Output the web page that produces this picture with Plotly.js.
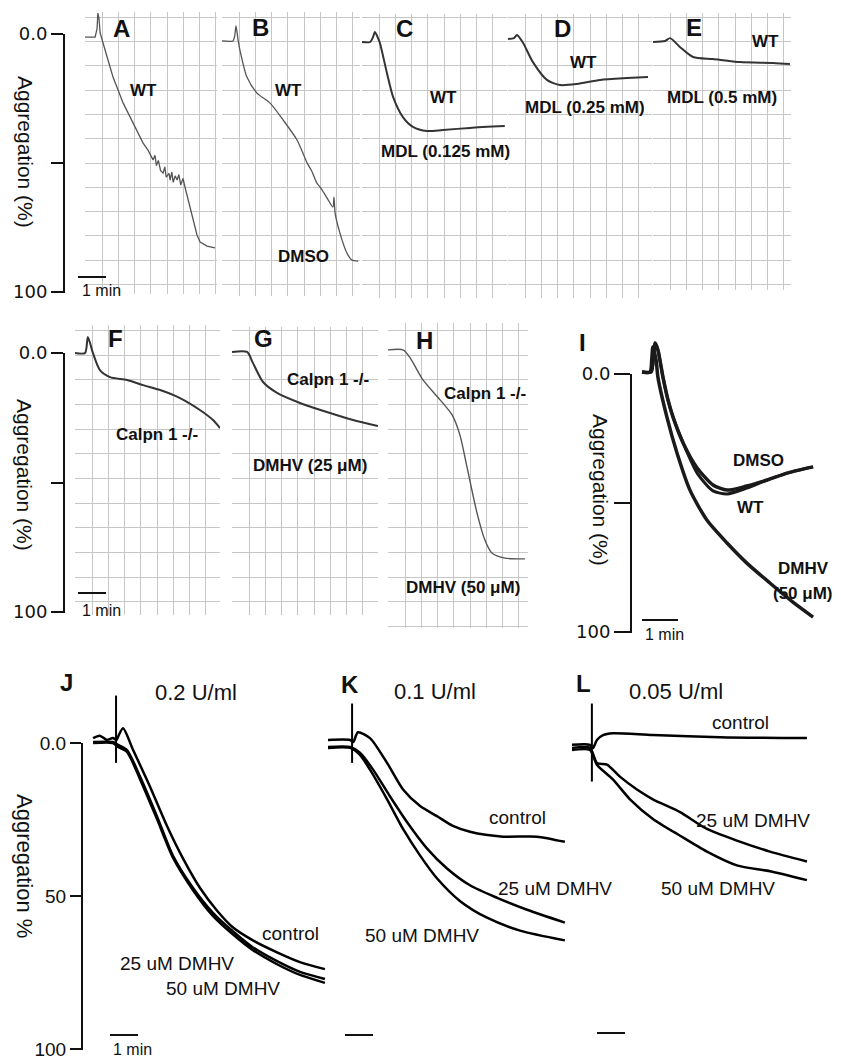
<!DOCTYPE html>
<html><head><meta charset="utf-8">
<script src="https://cdn.plot.ly/plotly-3.0.1.min.js"></script>
<style>html,body{margin:0;padding:0;background:#fff}</style>
</head><body><div id="chart" style="width:841px;height:1062px"></div>
<script>
// ---------------- DATA (time in min, aggregation in %) ----------------
const A_t  = [0,0.36,0.43,0.46,0.5,0.54,0.79,1.0,1.36,1.71,2.07,2.25,2.43,2.5,2.55,2.62,2.7,2.79,2.85,2.9,3.0,3.04,3.1,3.15,3.22,3.29,3.35,3.42,3.5,3.57,3.68,3.82,4.0,4.11,4.36,4.64];
const A_wt = [1.2,1.2,-2,-8.1,-6,-0.4,8.9,16.7,26.7,34.5,42.2,45,48.8,47,51,49,53,53.9,51.5,55.5,54,56.6,53.5,57.5,55,56.6,54.5,58.5,56,59.3,64.3,70.9,77.9,80.6,82.2,82.9];

const B_t    = [0,0.39,0.45,0.5,0.57,0.64,0.89,1.25,1.71,2.18,2.68,3.04,3.2,3.39,3.55,3.79,3.96,4.0,4.04,4.21,4.46,4.64,4.86];
const B_dmso = [2.7,2.7,1,-3.1,2,6.2,16.7,22.9,26.7,33.3,41.1,50,53,57.8,60,64.3,67.1,63.2,69.4,77.1,84.9,87.6,88.0];

const C_t   = [0,0.29,0.4,0.46,0.55,0.64,0.89,1.11,1.46,1.82,2.32,2.89,3.86,5.1];
const C_mdl = [3.1,3.1,1,-0.8,1,3.5,15.1,24.4,32.2,36.0,37.6,37.2,36.4,35.7];

const D_t   = [0,0.21,0.32,0.54,0.89,1.39,1.86,2.46,3.29,4.25,5.0];
const D_mdl = [1.9,1.6,0.4,3.5,10.9,17.8,19.8,19.4,17.8,17.1,16.7];

const E_t   = [0,0.43,0.61,0.96,1.43,2.14,3.11,4.29,4.89];
const E_mdl = [3.1,2.7,1.6,5.0,8.9,9.7,10.9,11.2,11.6];

const F_t  = [0,0.36,0.46,0.64,0.89,1.25,1.86,2.43,3.04,3.75,4.46,4.93,5.18];
const F_ko = [0,0,-6.2,0,6.6,9.3,10.4,12.4,14.3,17.4,22.0,25.9,29.0];

const G_t    = [0,0.54,0.75,1.11,1.61,2.43,3.39,4.32,5.21];
const G_dmhv = [-0.4,-0.4,3.9,11.2,15.4,19.3,22.8,25.9,28.2];

const H_t    = [0,0.54,0.79,1.25,1.86,2.29,2.57,2.82,3.18,3.46,3.71,4.18,4.89];
const H_dmhv = [-1.2,-1.2,1.9,10.4,18.1,23.9,31.7,44.0,61.8,72.2,77.2,79.2,79.5];

const I_t      = [0.28,0.53,0.6,0.64,0.72,0.86,1.0,1.14,1.42,1.81,2.25,2.64,3.19,3.75,4.31,5.03];
const I_wt     = [-0.8,-0.8,-8,-12.0,-9.3,1.2,10.1,16.7,26.7,38.4,45.3,46.5,44.2,41.1,38.4,36.0];
const I_dmso   = [-0.8,-0.8,-8,-12.0,-9.3,1.2,10.1,16.7,26.7,36.4,43.0,45.0,43.4,41.1,38.4,36.0];
const I_dmhv_t = [0.28,0.5,0.55,0.58,0.67,0.72,0.97,1.25,1.61,2.08,2.64,3.19,3.83,4.47,5.03];
const I_dmhv   = [-0.8,-0.8,-6,-10.5,-5.4,1.2,16.7,30.6,45.0,56.6,65.5,73.3,81.0,88.4,94.2];

const J_ctrl_t  = [0.36,0.6,0.85,1.07,1.2,1.25,1.43,1.79,2.39,3.0,3.57,4.18,4.79,5.36,6.07,6.93,7.75,8.64];
const J_ctrl    = [-1.6,-2.4,-1.0,-1.6,-1.0,-2,-4.8,2.3,14.2,27.1,37.7,47.4,54.8,60.3,64.5,68.4,71.6,73.9];
const J_spike_t = [1.18,1.18];
const J_spike   = [-15.5,6.5];
const J_t       = [0.36,1.07,1.25,1.57,2.04,2.64,3.21,3.93,4.64,5.36,6.07,6.93,7.75,8.64];
const J_25      = [-0.3,-0.3,0.6,2.3,11.0,23.9,36.8,47.4,55.5,61.6,66.8,71.3,74.8,77.1];
const J_50      = [0,0,1.3,2.9,11.9,24.8,37.4,48.1,56.5,62.6,67.7,72.3,75.8,78.4];

const K_ctrl_t  = [0,0.79,0.9,1.07,1.5,2.11,2.68,3.29,3.89,4.46,5.07,6.25,7.46,8.46];
const K_ctrl    = [-1.0,-1.0,-0.3,-3.5,-1.6,6.5,15.2,20.6,23.9,27.1,29.0,30.6,30.6,32.3];
const K_spike_t = [0.86,0.86];
const K_spike   = [-12.9,6.5];
const K_25_t    = [0,0.79,1.14,1.61,2.21,2.82,3.54,4.25,5.07,6.04,7.11,8.46];
const K_25      = [1.3,1.3,3.2,8.7,17.4,25.8,34.5,41.0,46.5,50.6,54.5,58.7];
const K_50_t    = [0,0.79,1.14,1.5,2.11,2.68,3.29,3.89,4.71,5.68,6.86,8.46];
const K_50      = [1.6,1.6,3.9,8.7,18.4,28.1,36.8,44.2,51.6,57.1,61.3,64.5];

const L_ctrl_t  = [0,0.64,0.75,0.89,1.11,1.46,2.89,5.29,8.39];
const L_ctrl    = [0.6,0.6,1.6,-1.0,-2.6,-3.2,-2.6,-1.9,-1.6];
const L_spike_t = [0.71,0.71];
const L_spike   = [-12.9,12.6];
const L_25_t    = [0,0.64,0.89,1.25,1.71,2.32,2.89,3.86,4.82,5.89,7.07,8.39];
const L_25      = [1.6,1.6,6.5,7.1,11.0,15.2,18.4,22.6,28.1,31.9,35.5,38.7];
const L_50_t    = [0,0.64,0.89,1.46,2.07,2.89,3.86,4.82,5.89,7.07,8.39];
const L_50      = [2.3,2.3,7.1,11.9,18.4,24.8,30.3,35.5,40.0,41.9,44.8];

const AXIS_TICKS = [0, 50, 100];
const SCALE_BAR_MIN = 1;

// ---------------- LAYOUT HELPERS ----------------
const W = 841, H = 1062;
const fx = p => p / W, fy = p => 1 - p / H;
const FONT = 'Liberation Sans, Arial, sans-serif';
const layout = {
  width: W, height: H, margin: {l:0, r:0, t:0, b:0},
  paper_bgcolor: '#fff', plot_bgcolor: 'rgba(0,0,0,0)', showlegend: false,
  font: {family: FONT, color: '#111'}, annotations: [], hovermode: false
};
const traces = [];
let n = 0;
const GRIDC = '#c6c6c6';

function dataPanel(box, zero, ppp, ppm, grid) {
  n++;
  const s = n === 1 ? '' : String(n);
  const xa = {domain:[fx(box[0]), fx(box[1])], range:[0, (box[1]-box[0])/ppm], anchor:'y'+s,
              zeroline:false, showticklabels:false, ticks:'', showline:false, fixedrange:true};
  const ya = {domain:[fy(box[3]), fy(box[2])], range:[(box[3]-zero)/ppp, (box[2]-zero)/ppp], anchor:'x'+s,
              zeroline:false, showticklabels:false, ticks:'', showline:false, fixedrange:true};
  if (grid) {
    Object.assign(xa, {showgrid:true, gridcolor:GRIDC, gridwidth:1, tick0:grid.x0, dtick:grid.dx});
    Object.assign(ya, {showgrid:true, gridcolor:GRIDC, gridwidth:1, tick0:grid.y0, dtick:grid.dy});
  } else {
    xa.showgrid = false; ya.showgrid = false; xa.visible = false; ya.visible = false;
  }
  layout['xaxis'+s] = xa; layout['yaxis'+s] = ya;
  return {x:'x'+s, y:'y'+s, left:box[0], zero, ppp, ppm};
}
function labelAxis(x, y0, y1, ppm, ticktext, tfont, ticklen) {
  n++;
  const s = String(n);
  layout['xaxis'+s] = {domain:[fx(x), fx(x+150)], range:[0, 150/ppm], anchor:'y'+s, visible:false, fixedrange:true};
  layout['yaxis'+s] = {domain:[fy(y1+0.5), fy(y0-0.5)], range:[100.2, -0.2], anchor:'x'+s, fixedrange:true,
    showline:true, linecolor:'#111', linewidth:2, ticks:'outside', ticklen:ticklen, tickwidth:2, tickcolor:'#111',
    tickmode:'array', tickvals:AXIS_TICKS, ticktext:ticktext, showgrid:false, zeroline:false, tickfont:tfont,
    ticklabeloverflow:'allow'};
  return {x:'x'+s, y:'y'+s, left:x, zero:y0, ppp:(y1-y0)/100, ppm};
}
function curve(ax, t, v, color, width, shape) {
  traces.push({type:'scatter', mode:'lines', x:t, y:v, xaxis:ax.x, yaxis:ax.y,
               line:{color:color, width:width, shape:shape || 'spline', smoothing:0.7}, hoverinfo:'skip'});
}
function scaleBar(ax, xpx, ypx) {
  const t0 = (xpx - ax.left) / ax.ppm, v = (ypx - ax.zero) / ax.ppp;
  traces.push({type:'scatter', mode:'lines', x:[t0, t0 + SCALE_BAR_MIN], y:[v, v], xaxis:ax.x, yaxis:ax.y,
               line:{color:'#111', width:2}, hoverinfo:'skip'});
}
function ann(text, x, y, size, opts) {
  layout.annotations.push(Object.assign({text:text, x:fx(x), y:fy(y), xref:'paper', yref:'paper',
    showarrow:false, xanchor:'center', yanchor:'middle', font:{size:size, family:FONT, color:'#111'}}, opts || {}));
}

// ---------------- PANELS ----------------
const g1 = {x0:0.03, dx:0.58, y0:50, dy:9.42};
const g2 = {x0:0.03, dx:0.58, y0:0.8, dy:9.53};
const pA = dataPanel([85,217,12,294], 34, 2.58, 28, g1);
const pB = dataPanel([222,360,12,296], 34, 2.58, 28, g1);
const pC = dataPanel([362,507,14,298], 34, 2.58, 28, g1);
const pD = dataPanel([508,652,14,298], 34, 2.58, 28, g1);
const pE = dataPanel([653,791,13,290], 34, 2.58, 28, g1);
const pF = dataPanel([75,220,325,615], 353, 2.59, 28, g2);
const pG = dataPanel([232,378,327,615], 353, 2.59, 28, g2);
const pH = dataPanel([388,528,323,628], 353, 2.59, 28, g2);
const pI = dataPanel([632,835,335,632], 374, 2.58, 36, null);
const pJ = dataPanel([83,328,690,1049], 743, 3.06, 28, null);
const pK = dataPanel([328,570,690,1049], 743, 3.06, 28, null);
const pL = dataPanel([572,815,690,1049], 743, 3.06, 28, null);

const roundFont = {family:'DejaVu Sans, sans-serif', size:18, color:'#111'};
const ax1 = labelAxis(65, 34, 292, 28, ['0.0','','100'], roundFont, 12);
const ax2 = labelAxis(65, 353, 612, 28, ['0.0','','100'], roundFont, 12);
const axI = labelAxis(632, 374, 632, 36, ['0.0','','100'], roundFont, 16);
const axJ = labelAxis(83, 743, 1049, 28, ['0.0','50','100'], {family:FONT, size:19, color:'#111'}, 11);

// curves
const thin = '#555', mid = '#333';
curve(pA, A_t, A_wt, thin, 1.3, 'linear');
curve(pB, B_t, B_dmso, thin, 1.3);
curve(pC, C_t, C_mdl, mid, 2);
curve(pD, D_t, D_mdl, mid, 2);
curve(pE, E_t, E_mdl, mid, 2);
curve(pF, F_t, F_ko, mid, 2);
curve(pG, G_t, G_dmhv, mid, 2);
curve(pH, H_t, H_dmhv, thin, 1.4);
curve(pI, I_t, I_dmso, '#1a1a1a', 3.5);
curve(pI, I_t, I_wt, '#1a1a1a', 3);
curve(pI, I_dmhv_t, I_dmhv, '#1a1a1a', 3.5);
curve(pJ, J_ctrl_t, J_ctrl, '#000', 2.5);
curve(pJ, J_spike_t, J_spike, '#000', 2, 'linear');
curve(pJ, J_t, J_25, '#000', 2.5);
curve(pJ, J_t, J_50, '#000', 2.5);
curve(pK, K_ctrl_t, K_ctrl, '#000', 2.5);
curve(pK, K_spike_t, K_spike, '#000', 2, 'linear');
curve(pK, K_25_t, K_25, '#000', 2.5);
curve(pK, K_50_t, K_50, '#000', 2.5);
curve(pL, L_ctrl_t, L_ctrl, '#000', 2.5);
curve(pL, L_spike_t, L_spike, '#000', 2, 'linear');
curve(pL, L_25_t, L_25, '#000', 2.5);
curve(pL, L_50_t, L_50, '#000', 2.5);

// scale bars (1 min)
scaleBar(ax1, 78, 277);
scaleBar(ax2, 78, 593);
scaleBar(axI, 642, 620);
scaleBar(axJ, 110, 1035);
scaleBar(pK, 345, 1035);
scaleBar(pL, 597, 1033);

// ---------------- TEXT ----------------
const B = t => '<b>' + t + '</b>';
[['A',121,28],['B',260,27],['C',404,28],['D',562,28],['E',694,27],
 ['F',115,338],['G',263,338],['H',425,340],['I',582,343],
 ['J',66,682],['K',350,684],['L',583,683]].forEach(d => ann(B(d[0]), d[1], d[2], 24));

[['WT',143,90],['WT',288,90],['DMSO',303,257],['WT',443,98],['MDL (0.125 mM)',445,152],
 ['WT',583,63],['MDL (0.25 mM)',585,108],['WT',765,42],['MDL (0.5 mM)',722,98],
 ['Calpn 1 -/-',157,435],['Calpn 1 -/-',328,380],['DMHV (25 μM)',310,465],
 ['Calpn 1 -/-',485,393],['DMHV (50 μM)',463,587],
 ['DMSO',758,460],['WT',750,507],['DMHV',803,568],['(50 μM)',803,593]
].forEach(d => ann(B(d[0]), d[1], d[2], 17));

ann('Aggregation (%)', 25, 152, 21, {textangle:90});
ann('Aggregation (%)', 25, 475, 21, {textangle:90});
ann('Aggregation (%)', 600, 490, 21, {textangle:90});
ann('Aggregation %', 25, 866, 22, {textangle:90});

ann('1 min', 101, 291, 16);
ann('1 min', 101, 610, 16);
ann('1 min', 664, 634, 16);
ann('1 min', 132, 1049, 16);

ann('0.2 U/ml', 196, 692, 22);
ann('0.1 U/ml', 435, 691, 22);
ann('0.05 U/ml', 676, 691, 22);
[['control',290,933],['25 uM DMHV',177,963],['50 uM DMHV',223,988],
 ['control',517,817],['25 uM DMHV',555,888],['50 uM DMHV',422,935],
 ['control',740,722],['25 uM DMHV',753,820],['50 uM DMHV',718,888]
].forEach(d => ann(d[0], d[1], d[2], 19));

Plotly.newPlot('chart', traces, layout, {staticPlot:true, displayModeBar:false});
</script></body></html>
